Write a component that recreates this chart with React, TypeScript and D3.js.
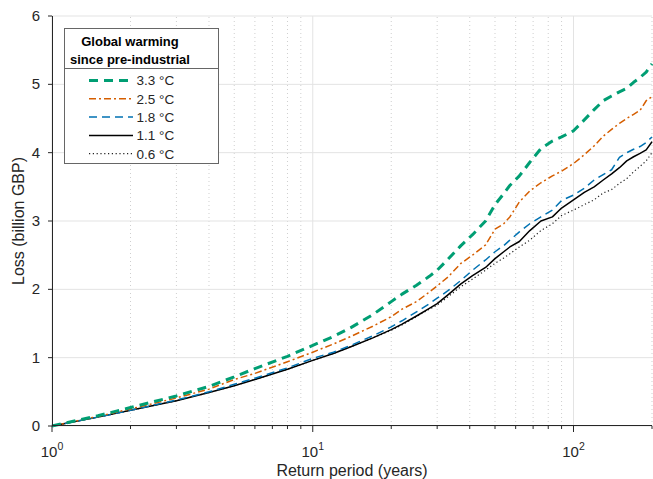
import React, { useEffect, useRef } from 'react';
import * as d3 from 'd3';

// return periods (years) shared by every curve
const returnPeriods = [1, 1.5, 2, 3, 4, 5, 6, 8, 10, 12, 14, 17, 20, 22, 25, 28, 30, 33, 37, 41, 46, 50, 54, 57, 62, 68, 75, 83, 90, 100, 110, 120, 130, 140, 150, 160, 170, 180, 190, 200];

// losses in billion GBP
const loss33 = [0, 0.15, 0.27, 0.44, 0.58, 0.72, 0.84, 1.02, 1.18, 1.31, 1.44, 1.63, 1.82, 1.93, 2.06, 2.19, 2.28, 2.44, 2.64, 2.80, 3.00, 3.24, 3.40, 3.52, 3.66, 3.86, 4.06, 4.17, 4.23, 4.32, 4.48, 4.63, 4.76, 4.83, 4.89, 4.94, 5.03, 5.10, 5.18, 5.30];
const loss25 = [0, 0.14, 0.25, 0.41, 0.54, 0.68, 0.77, 0.94, 1.08, 1.20, 1.31, 1.46, 1.60, 1.71, 1.82, 1.96, 2.05, 2.18, 2.38, 2.50, 2.65, 2.88, 2.96, 3.06, 3.28, 3.44, 3.56, 3.66, 3.73, 3.84, 3.97, 4.10, 4.24, 4.34, 4.43, 4.50, 4.56, 4.62, 4.76, 4.82];
const loss18 = [0, 0.13, 0.23, 0.38, 0.50, 0.61, 0.70, 0.85, 0.99, 1.08, 1.18, 1.32, 1.45, 1.54, 1.67, 1.79, 1.87, 1.98, 2.13, 2.28, 2.43, 2.55, 2.64, 2.72, 2.84, 2.96, 3.06, 3.16, 3.30, 3.38, 3.48, 3.60, 3.68, 3.75, 3.93, 4.00, 4.05, 4.09, 4.15, 4.23];
const loss11 = [0, 0.13, 0.23, 0.37, 0.49, 0.59, 0.68, 0.83, 0.96, 1.06, 1.16, 1.29, 1.41, 1.49, 1.61, 1.72, 1.79, 1.92, 2.08, 2.20, 2.32, 2.45, 2.55, 2.62, 2.70, 2.86, 3.00, 3.06, 3.19, 3.31, 3.42, 3.50, 3.60, 3.69, 3.78, 3.88, 3.94, 3.99, 4.04, 4.16];
const loss06 = [0, 0.13, 0.23, 0.37, 0.49, 0.59, 0.68, 0.83, 0.96, 1.06, 1.16, 1.29, 1.40, 1.48, 1.60, 1.71, 1.77, 1.89, 2.04, 2.15, 2.28, 2.38, 2.46, 2.52, 2.62, 2.72, 2.86, 2.96, 3.08, 3.16, 3.24, 3.31, 3.41, 3.46, 3.55, 3.62, 3.72, 3.80, 3.88, 4.00];

const seriesLabels = ['3.3 °C', '2.5 °C', '1.8 °C', '1.1 °C', '0.6 °C'];
const yTicks = [0, 1, 2, 3, 4, 5, 6];
const decades = [1, 10, 100];

const styles = [
  { color: '#009E73', width: 3, dash: '9,6' },
  { color: '#D55E00', width: 1.5, dash: '7,3,2,3' },
  { color: '#0072B2', width: 1.5, dash: '8,5' },
  { color: '#000000', width: 1.5, dash: null },
  { color: '#222222', width: 1.2, dash: '1.2,2.6' },
];

const W = 653;
const H = 479;
const FONT = 'Liberation Sans, Arial, Helvetica, sans-serif';

const App = () => {
  const ref = useRef<SVGSVGElement>(null);

  useEffect(() => {
    const svg = d3.select(ref.current);
    svg.selectAll('*').remove();

    const margin = { left: 52, right: 1, top: 16, bottom: 53 };
    const x = d3.scaleLog().domain([1, 200]).range([margin.left, W - margin.right]);
    const y = d3.scaleLinear().domain([0, 6]).range([H - margin.bottom, margin.top]);
    const x0 = margin.left, x1 = W - margin.right;
    const y0 = H - margin.bottom, y1 = margin.top;

    // minor ticks 2..9, 20..90, 200
    const minors: number[] = [];
    decades.forEach(d => {
      for (let k = 2; k <= 9; k++) if (d * k <= 200) minors.push(d * k);
    });

    // grid
    const grid = svg.append('g');
    grid.selectAll('line.minor').data(minors).enter().append('line')
      .attr('x1', d => x(d)).attr('x2', d => x(d))
      .attr('y1', y0).attr('y2', y1)
      .attr('stroke', '#cfcfcf').attr('stroke-width', 1)
      .attr('stroke-dasharray', '1,3');
    grid.selectAll('line.major').data(decades).enter().append('line')
      .attr('x1', d => x(d)).attr('x2', d => x(d))
      .attr('y1', y0).attr('y2', y1)
      .attr('stroke', '#e3e3e3').attr('stroke-width', 1);
    grid.selectAll('line.h').data(yTicks).enter().append('line')
      .attr('x1', x0).attr('x2', x1)
      .attr('y1', d => y(d)).attr('y2', d => y(d))
      .attr('stroke', '#e3e3e3').attr('stroke-width', 1);

    // curves
    const allLoss = [loss33, loss25, loss18, loss11, loss06];
    const line = d3.line<number>()
      .x((d, i) => x(returnPeriods[i]))
      .y(d => y(d));
    allLoss.slice().reverse().forEach((vals, ri) => {
      const s = styles[allLoss.length - 1 - ri];
      svg.append('path')
        .attr('d', line(vals))
        .attr('fill', 'none')
        .attr('stroke', s.color)
        .attr('stroke-width', s.width)
        .attr('stroke-dasharray', s.dash)
        .attr('stroke-linejoin', 'round');
    });

    // axes
    const axisColor = '#262626';
    svg.append('line').attr('x1', x0).attr('x2', x1).attr('y1', y0 - 0.5).attr('y2', y0 - 0.5)
      .attr('stroke', axisColor).attr('stroke-width', 1);
    svg.append('line').attr('x1', x0 + 0.5).attr('x2', x0 + 0.5).attr('y1', y0).attr('y2', y1)
      .attr('stroke', axisColor).attr('stroke-width', 1);

    svg.selectAll('line.yt').data(yTicks).enter().append('line')
      .attr('x1', x0 - 4).attr('x2', x0)
      .attr('y1', d => y(d)).attr('y2', d => y(d))
      .attr('stroke', axisColor);
    svg.selectAll('text.yl').data(yTicks).enter().append('text')
      .attr('x', x0 - 12).attr('y', d => y(d) + 5)
      .attr('text-anchor', 'end')
      .style('font-family', FONT).style('font-size', '15px').attr('fill', axisColor)
      .text(d => d);

    svg.selectAll('line.xt').data(decades).enter().append('line')
      .attr('x1', d => x(d)).attr('x2', d => x(d))
      .attr('y1', y0).attr('y2', y0 + 6)
      .attr('stroke', axisColor);
    svg.selectAll('line.xm').data(minors).enter().append('line')
      .attr('x1', d => x(d)).attr('x2', d => x(d))
      .attr('y1', y0).attr('y2', y0 + 3)
      .attr('stroke', axisColor);

    const xl = svg.selectAll('text.xl').data(decades).enter().append('text')
      .attr('x', d => x(d)).attr('y', y0 + 31)
      .attr('text-anchor', 'middle')
      .style('font-family', FONT).style('font-size', '15px').attr('fill', axisColor);
    xl.append('tspan').text('10');
    xl.append('tspan').attr('dy', -7).style('font-size', '10.5px').text(d => Math.round(Math.log10(d)));

    svg.append('text')
      .attr('x', (x0 + x1) / 2).attr('y', H - 3)
      .attr('text-anchor', 'middle')
      .style('font-family', FONT).style('font-size', '16px').attr('fill', axisColor)
      .text('Return period (years)');
    svg.append('text')
      .attr('transform', `translate(24,${(y0 + y1) / 2}) rotate(-90)`)
      .attr('text-anchor', 'middle')
      .style('font-family', FONT).style('font-size', '16px').attr('fill', axisColor)
      .text('Loss (billion GBP)');

    // legend
    const lg = svg.append('g');
    lg.append('rect').attr('x', 64.5).attr('y', 28.5).attr('width', 154).attr('height', 135)
      .attr('fill', '#fff').attr('stroke', '#666').attr('stroke-width', 1);
    lg.append('line').attr('x1', 64.5).attr('x2', 218.5).attr('y1', 68.5).attr('y2', 68.5)
      .attr('stroke', '#666');
    ['Global warming', 'since pre-industrial'].forEach((t, i) => {
      lg.append('text').attr('x', 130).attr('y', 46 + i * 17.5)
        .attr('text-anchor', 'middle')
        .style('font-family', FONT).style('font-size', '13px').style('font-weight', 'bold')
        .attr('fill', '#000').text(t);
    });
    seriesLabels.forEach((lab, i) => {
      const ly = 80.5 + i * 18.3;
      const s = styles[i];
      lg.append('line').attr('x1', 89).attr('x2', 133).attr('y1', ly).attr('y2', ly)
        .attr('stroke', s.color).attr('stroke-width', s.width).attr('stroke-dasharray', s.dash);
      lg.append('text').attr('x', 136.5).attr('y', ly + 4.8)
        .style('font-family', FONT).style('font-size', '13.5px').attr('fill', '#262626')
        .text(lab);
    });
  }, []);

  return (
    <div style={{ position: 'absolute', left: 0, top: 0 }}>
      <svg ref={ref} width={W} height={H} style={{ display: 'block', background: '#fff' }} />
    </div>
  );
};

export default App;
